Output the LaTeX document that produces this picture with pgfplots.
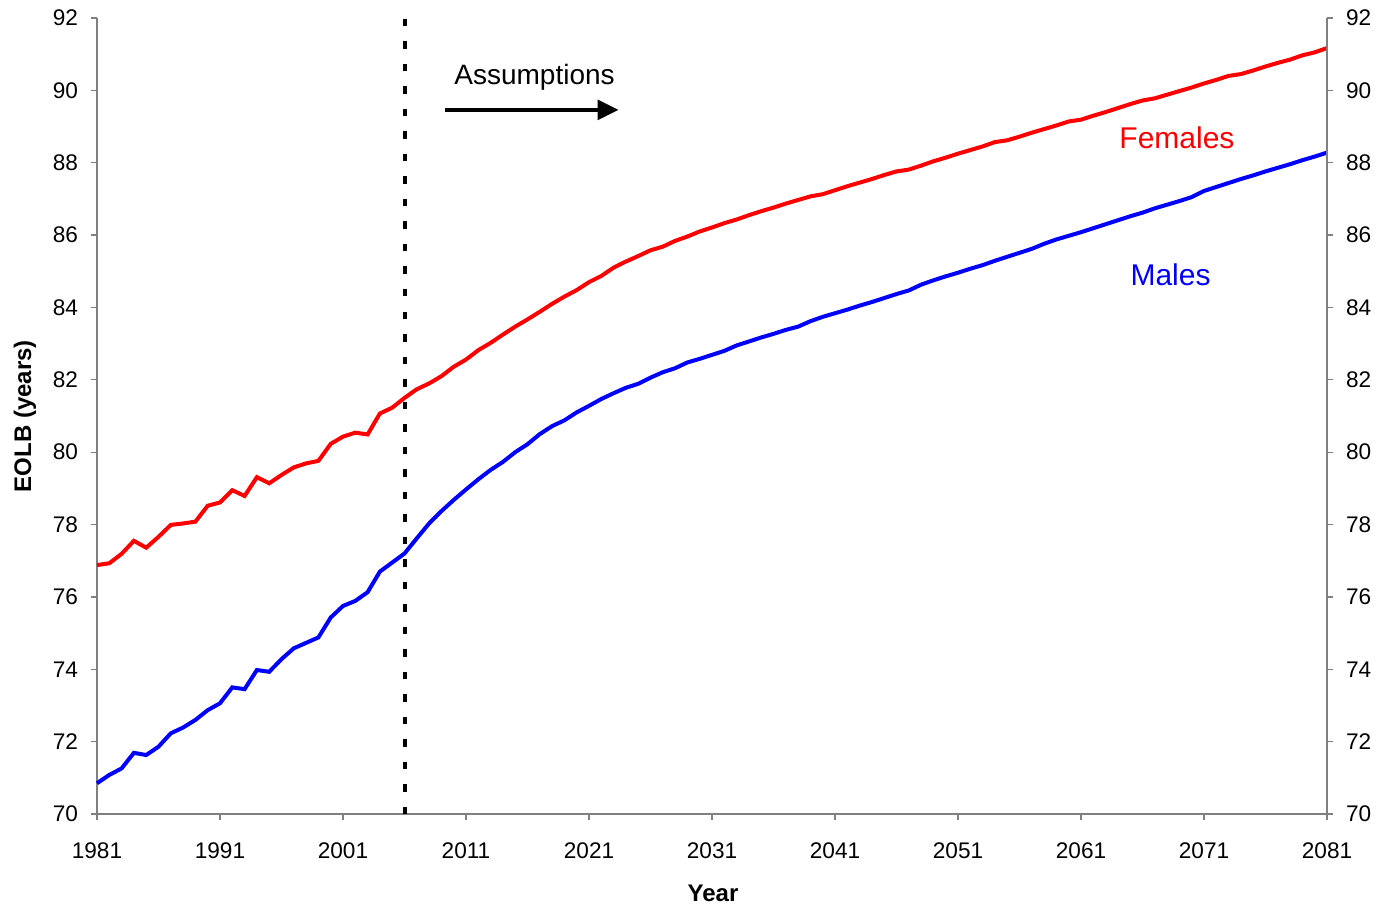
\documentclass[border=0pt]{standalone}
\usepackage{pgfplots}
\pgfplotsset{compat=1.18}
\usepackage{pgfplotstable}
\usepackage{fontspec}
\setmainfont{Liberation Sans}
\usetikzlibrary{arrows.meta}
\definecolor{axgray}{gray}{0.5}
\definecolor{xred}{RGB}{255,0,0}
\definecolor{xblue}{RGB}{0,0,255}

\pgfplotstableread{
year F M
1981 76.88 70.85
1982 76.93 71.08
1983 77.19 71.26
1984 77.55 71.69
1985 77.36 71.63
1986 77.66 71.86
1987 77.99 72.23
1988 78.03 72.39
1989 78.08 72.60
1990 78.52 72.87
1991 78.61 73.06
1992 78.95 73.50
1993 78.79 73.45
1994 79.31 73.98
1995 79.14 73.93
1996 79.37 74.28
1997 79.58 74.58
1998 79.69 74.73
1999 79.76 74.88
2000 80.23 75.43
2001 80.43 75.75
2002 80.54 75.89
2003 80.49 76.13
2004 81.07 76.70
2005 81.23 76.95
2006 81.50 77.20
2007 81.74 77.62
2008 81.90 78.03
2009 82.10 78.37
2010 82.36 78.68
2011 82.56 78.97
2012 82.82 79.25
2013 83.02 79.51
2014 83.25 79.73
2015 83.47 80.00
2016 83.67 80.22
2017 83.88 80.50
2018 84.10 80.72
2019 84.30 80.88
2020 84.48 81.10
2021 84.70 81.28
2022 84.87 81.47
2023 85.10 81.63
2024 85.27 81.78
2025 85.42 81.89
2026 85.58 82.06
2027 85.68 82.21
2028 85.84 82.32
2029 85.96 82.48
2030 86.10 82.58
2031 86.21 82.69
2032 86.33 82.80
2033 86.43 82.95
2034 86.55 83.06
2035 86.66 83.17
2036 86.76 83.27
2037 86.87 83.38
2038 86.97 83.47
2039 87.07 83.62
2040 87.13 83.74
2041 87.24 83.84
2042 87.35 83.94
2043 87.45 84.05
2044 87.55 84.15
2045 87.66 84.26
2046 87.76 84.37
2047 87.81 84.47
2048 87.92 84.63
2049 88.04 84.75
2050 88.14 84.86
2051 88.25 84.96
2052 88.35 85.07
2053 88.45 85.17
2054 88.57 85.29
2055 88.62 85.40
2056 88.72 85.51
2057 88.83 85.62
2058 88.93 85.76
2059 89.03 85.88
2060 89.14 85.98
2061 89.19 86.08
2062 89.30 86.19
2063 89.40 86.30
2064 89.51 86.41
2065 89.62 86.52
2066 89.72 86.62
2067 89.78 86.74
2068 89.88 86.84
2069 89.98 86.94
2070 90.08 87.05
2071 90.19 87.22
2072 90.29 87.33
2073 90.40 87.44
2074 90.45 87.55
2075 90.55 87.65
2076 90.66 87.76
2077 90.76 87.86
2078 90.85 87.96
2079 90.97 88.07
2080 91.05 88.17
2081 91.17 88.28
}\datatable

\begin{document}
\begin{tikzpicture}
\useasboundingbox (-48.5pt,-46pt) rectangle (641pt,407pt);
\pgfplotsset{
  common/.style={
    scale only axis, width=615pt, height=398pt,
    xmin=1981, xmax=2081, ymin=70, ymax=92,
    at={(0,0)}, anchor=south west,
    tick align=outside, major tick length=3pt,
    every tick/.style={axgray, line width=0.6pt},
    axis line style={axgray, line width=0.6pt},
    tick label style={font=\fontsize{11.3}{13}\selectfont, black},
    /pgf/number format/assume math mode=true,
    /pgf/number format/1000 sep={},
    ytick={70,72,...,92},
    clip=false,
  }
}
\begin{axis}[common,
  axis x line*=bottom, axis y line*=left,
  xtick={1981,1991,...,2081},
  xlabel={\textbf{Year}}, ylabel={\textbf{EOLB (years)}},
  label style={font=\fontsize{12}{14}\selectfont},
  xlabel style={at={(axis description cs:0.5008,-0.0992)}, anchor=center},
  ylabel style={at={(axis description cs:-0.0585,0.5)}, anchor=center},
  yticklabel style={xshift=-3pt},
  xticklabel style={yshift=-8pt},
]
\addplot[xred, line width=2pt] table[x=year, y=F] {\datatable};
\addplot[xblue, line width=2pt] table[x=year, y=M] {\datatable};
\addplot[black, line width=2pt, dash pattern=on 3.75pt off 7.5pt] coordinates {(2006,70) (2006,92)};
\draw[-{Triangle[length=10.5pt,width=10pt]}, line width=1.6pt] (axis cs:2009.3,89.46) -- (axis cs:2023.4,89.46);
\node[anchor=base, font=\fontsize{14}{16}\selectfont] at (axis cs:2016.57,90.15) {Assumptions};
\node[anchor=base, font=\fontsize{15}{17}\selectfont, text=xred] at (axis cs:2068.8,88.40) {Females};
\node[anchor=base, font=\fontsize{15}{17}\selectfont, text=xblue] at (axis cs:2068.28,84.62) {Males};
\end{axis}
\begin{axis}[common,
  axis x line=none, axis y line*=right,
  yticklabel style={xshift=3pt},
]
\end{axis}
\end{tikzpicture}
\end{document}
